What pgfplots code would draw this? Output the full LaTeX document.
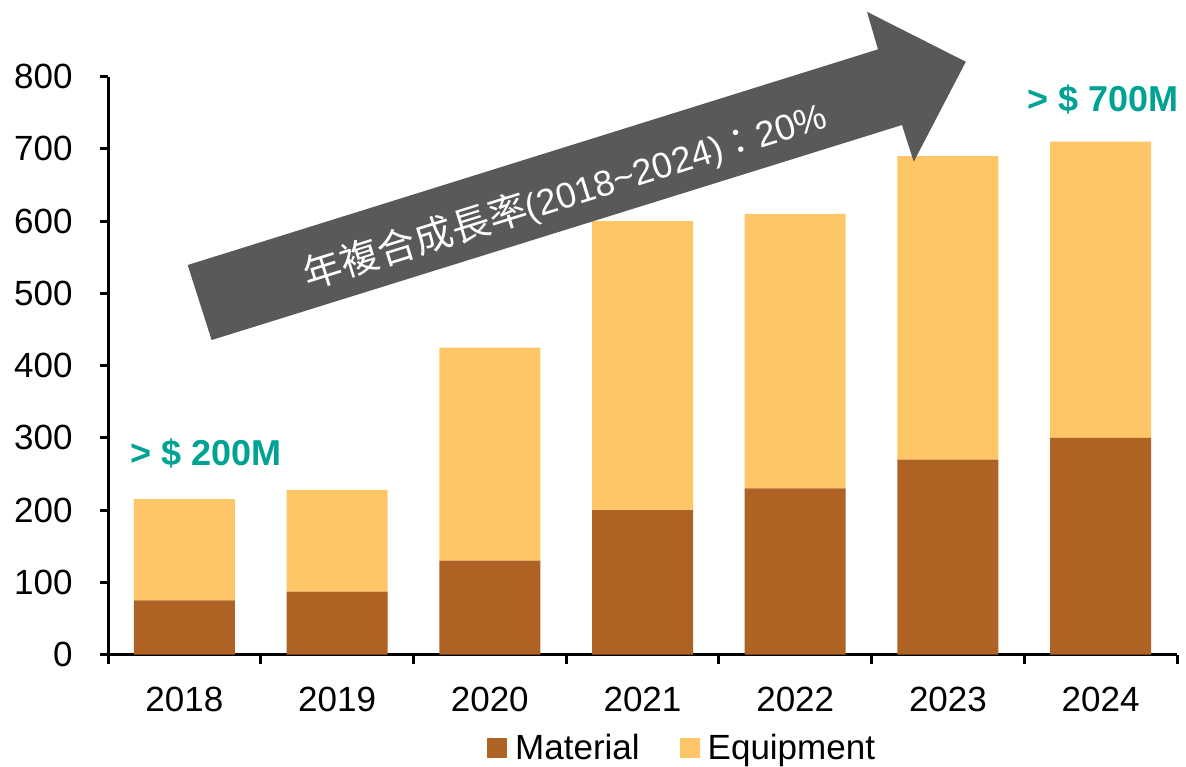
\documentclass[border=0pt]{standalone}
\usepackage{pgfplots}
\pgfplotsset{compat=1.18}
\usepackage{fontspec}
\setmainfont{Liberation Sans}
\newfontfamily\cjk{Noto Sans CJK TC}
\definecolor{matc}{HTML}{AE6324}
\definecolor{eqc}{HTML}{FEC666}
\definecolor{arrc}{HTML}{595959}
\definecolor{teal}{HTML}{00A393}
\begin{document}
\begin{tikzpicture}
\begin{axis}[
  name=ax, at={(0,0)}, anchor=south west,
  scale only axis, width=534.5pt, height=288.9pt,
  ybar stacked, bar width=50.5pt,
  xmin=-0.5, xmax=6.5, ymin=0, ymax=800,
  enlargelimits=false, clip=false,
  axis x line=bottom, axis y line=left,
  x axis line style={-, line width=1.5pt},
  y axis line style={-, line width=1.5pt},
  xtick={0,...,6},
  xticklabels={2018,2019,2020,2021,2022,2023,2024},
  major x tick style={draw=none},
  minor xtick={-0.5,0.5,...,6.5},
  minor x tick style={line width=1.5pt, black},
  minor tick length=4.5pt,
  ytick={0,100,...,800},
  major y tick style={line width=1.5pt, black},
  major tick length=4pt,
  tick align=outside,
  /pgf/number format/assume math mode=true,
  ticklabel style={font=\fontsize{17.5}{21}\selectfont},
  yticklabel style={anchor=east, inner sep=0pt, xshift=-13.5pt},
  xticklabel style={anchor=north, inner sep=0pt, yshift=-12pt},
  legend columns=2,
  legend style={at={(0.538,-0.162)}, anchor=center, draw=none,
    font=\fontsize{17.5}{21}\selectfont,
    /tikz/every even column/.append style={column sep=18pt},
    /tikz/every odd column/.append style={column sep=2pt},
    nodes={inner sep=2pt}},
  legend image code/.code={\fill[#1] (0pt,-5pt) rectangle (10pt,5pt);},
]
\addplot[fill=matc, draw=none] coordinates {(0,75) (1,87) (2,130) (3,200) (4,230) (5,270) (6,300)};
\addlegendentry{Material}
\addplot[fill=eqc, draw=none] coordinates {(0,140) (1,141) (2,295) (3,400) (4,380) (5,420) (6,410)};
\addlegendentry{Equipment}
\coordinate (pA) at (axis cs:0.0219,539.3);
\coordinate (pC) at (axis cs:4.542,837.9);
\coordinate (pD) at (axis cs:4.470,889.9);
\coordinate (pE) at (axis cs:5.117,820.7);
\coordinate (pF) at (axis cs:4.776,682.3);
\coordinate (pG) at (axis cs:4.699,733.1);
\coordinate (pB) at (axis cs:0.1784,435.4);
\coordinate (pT) at (axis cs:2.493,634.8);
\node[text=teal, font=\fontsize{18}{21}\selectfont\bfseries] at (axis cs:0.1417,279) {> \$ 200M};
\node[text=teal, font=\fontsize{18}{21}\selectfont\bfseries] at (axis cs:6.0155,768) {> \$ 700M};
\end{axis}
\fill[arrc] (pA) -- (pC) -- (pD) -- (pE) -- (pF) -- (pG) -- (pB) -- cycle;
\node[text=white, rotate=17.36, font=\fontsize{18}{21}\selectfont, inner sep=0pt] at (pT) {{\cjk\fontsize{19.3}{21}\selectfont 年複合成長率}(2018\textasciitilde 2024){\cjk ：}20\%};
\pgfresetboundingbox
\path[use as bounding box] (-54pt,-55.75pt) rectangle (539pt,327.25pt);
\end{tikzpicture}
\end{document}
